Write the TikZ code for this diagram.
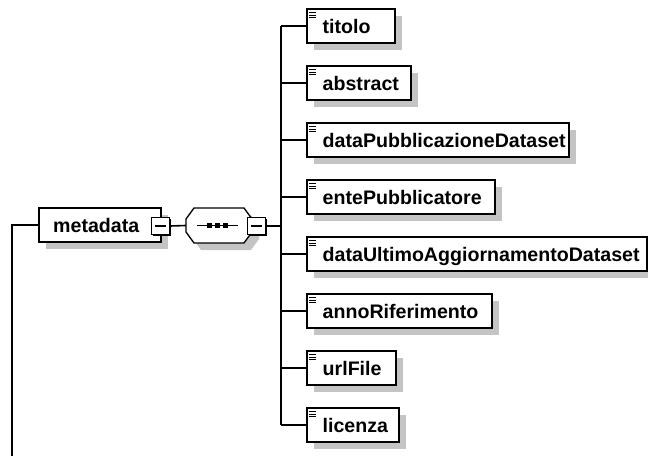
\documentclass[tikz,border=0pt]{standalone}
\usepackage{fontspec}
\setmainfont{Liberation Sans}
\usetikzlibrary{shadows}
\definecolor{shadowgray}{HTML}{C4C4C4}
\begin{document}
\begin{tikzpicture}[x=1pt,y=-1pt,
  wire/.style={line width=1.6pt},
  elem/.style={draw, line width=1.6pt, fill=white, minimum height=34pt,
    inner sep=0pt, anchor=west,
    general shadow={fill=shadowgray, shadow xshift=7pt, shadow yshift=-7pt}},
  lbl/.style={inner sep=0pt, anchor=base west,
    font=\bfseries\fontsize{19.6}{22}\selectfont},
  minusbox/.style={draw, line width=1.3pt, fill=white, minimum width=18pt,
    minimum height=17pt, inner sep=0pt,
    general shadow={fill=black, shadow xshift=1.6pt, shadow yshift=-1.6pt}},
  icon/.style={line width=1pt}
]
\useasboundingbox (0,0) rectangle (648,456);

% root element
\node[elem, minimum width=122pt] (meta) at (38,225) {};
\node[lbl] (meta-t) at ([xshift=15pt,yshift=-7.5pt]meta.west) {metadata};
\node[minusbox] (metam) at (160.5,226) {};
\draw[line width=1.2pt] ([xshift=-5.5pt]metam.center) -- ([xshift=5.5pt]metam.center);

% sequence compositor
\node[minimum width=66pt, minimum height=35pt, inner sep=0pt] (seq) at (219,225.5) {};
\fill[shadowgray, shift={(7,7)}] (194,208) -- (244,208) -- (252,219) -- (252,232)
  -- (244,243) -- (194,243) -- (186,232) -- (186,219) -- cycle;
\draw[line width=1.3pt, fill=white] (194,208) -- (244,208) -- (252,219) -- (252,232)
  -- (244,243) -- (194,243) -- (186,232) -- (186,219) -- cycle;
\draw[line width=1.3pt] (197,225.5) -- (238,225.5);
\foreach \cx in {209.5,217.5,225.5}
  \fill (\cx-2.8,223) rectangle (\cx+2.8,228.2);
\node[minusbox] (seqm) at (256.5,226) {};
\draw[line width=1.2pt] ([xshift=-5.5pt]seqm.center) -- ([xshift=5.5pt]seqm.center);

% child elements
\coordinate (bus) at (281,226);
\foreach \name/\txt/\w [count=\i from 0] in {
    titolo/titolo/88,
    abstract/abstract/104,
    pub/dataPubblicazioneDataset/262,
    ente/entePubblicatore/188,
    upd/dataUltimoAggiornamentoDataset/340,
    anno/annoRiferimento/185,
    url/urlFile/89,
    lic/licenza/92}{
  \node[elem, minimum width=\w pt] (\name) at (306,{26+57*\i}) {};
  \node[lbl] (\name-t) at ([xshift=16.5pt,yshift=-7.5pt]\name.west) {\txt};
  \foreach \dy in {4,6.8,9.6}
    \draw[icon] ([xshift=3pt,yshift=-\dy pt]\name.north west) -- ++(6.5pt,0pt);
  \draw[wire] (bus |- \name.west) -- (\name.west);
}

% connectors
\coordinate (root) at (12,456);
\draw[wire] (root) |- (meta.west);
\draw[wire] (metam.east) -- (seq.west);
\draw[wire] (seqm.east) -- (bus);
\draw[wire] (bus |- titolo.west) -- (bus |- lic.west);
\end{tikzpicture}
\end{document}
